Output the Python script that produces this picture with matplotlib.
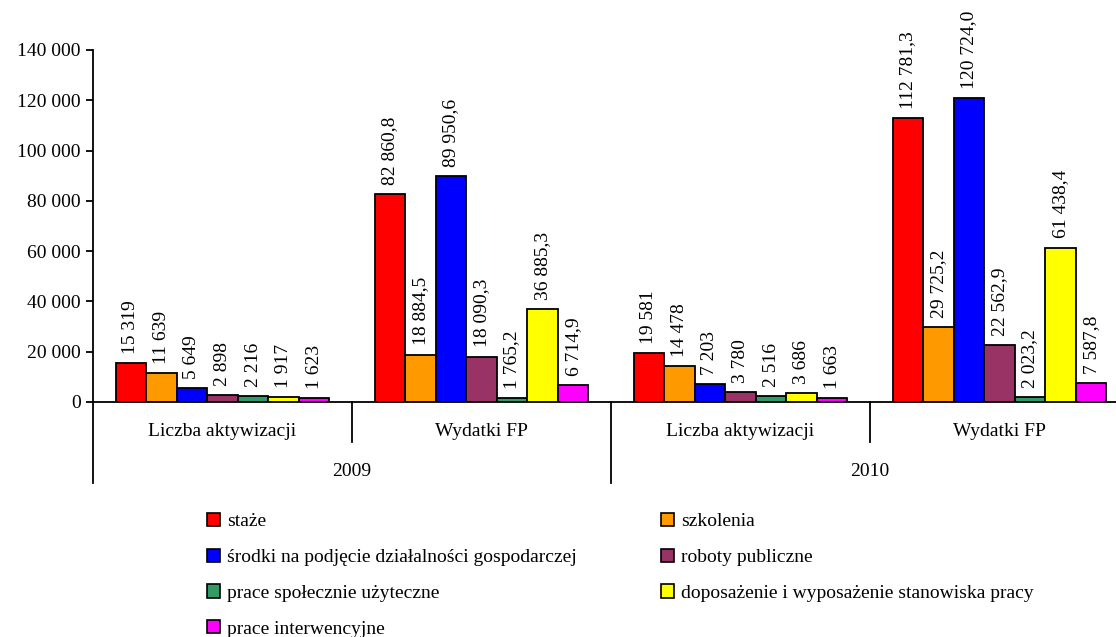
import matplotlib
matplotlib.use("Agg")
import matplotlib.pyplot as plt
from matplotlib.patches import Patch
from matplotlib.lines import Line2D

plt.rcParams['font.family'] = ['Liberation Serif', 'DejaVu Serif']

groups = ["Liczba aktywizacji", "Wydatki FP", "Liczba aktywizacji", "Wydatki FP"]
years = ["2009", "2010"]
series = ["staże", "szkolenia", "środki na podjęcie działalności gospodarczej",
          "roboty publiczne", "prace społecznie użyteczne",
          "doposażenie i wyposażenie stanowiska pracy", "prace interwencyjne"]
colors = ["#FF0000", "#FF9900", "#0000FF", "#993366", "#339966", "#FFFF00", "#FF00FF"]

liczba_2009 = [15319, 11639, 5649, 2898, 2216, 1917, 1623]
wydatki_2009 = [82860.8, 18884.5, 89950.6, 18090.3, 1765.2, 36885.3, 6714.9]
liczba_2010 = [19581, 14478, 7203, 3780, 2516, 3686, 1663]
wydatki_2010 = [112781.3, 29725.2, 120724.0, 22562.9, 2023.2, 61438.4, 7587.8]
group_values = [liczba_2009, wydatki_2009, liczba_2010, wydatki_2010]
group_decimals = [0, 1, 0, 1]
yticks = [0, 20000, 40000, 60000, 80000, 100000, 120000, 140000]


def fmt(v, dec):
    if dec == 0:
        s = f"{v:,.0f}".replace(",", " ")
    else:
        s = f"{v:,.1f}".replace(",", " ").replace(".", ",")
    return s


W, H = 1116, 637
fig = plt.figure(figsize=(W / 100, H / 100), dpi=100)
left, right, bottom, top = 93, 1129, 402, 50
ax = fig.add_axes([left / W, 1 - bottom / H, (right - left) / W, (bottom - top) / H])

fs = 14
bw = 0.118
n = len(series)
for gi, vals in enumerate(group_values):
    for si in range(n):
        x = gi + (si - (n - 1) / 2) * bw
        ax.bar(x, vals[si], width=bw, color=colors[si], edgecolor="black", linewidth=1.3, zorder=3)
        ax.annotate(fmt(vals[si], group_decimals[gi]), (x, vals[si]), xytext=(0, 6.5),
                    textcoords="offset points", rotation=90, ha="center", va="bottom",
                    fontsize=fs)

ax.set_xlim(-0.5, 3.5)
ax.set_ylim(0, 140000)
ax.set_yticks(yticks)
ax.set_yticklabels([fmt(v, 0) for v in yticks], fontsize=fs)
ax.set_xticks([])
for s in ["top", "right"]:
    ax.spines[s].set_visible(False)
ax.spines["left"].set_linewidth(1.3)
ax.spines["bottom"].set_linewidth(1.3)
ax.tick_params(axis="y", length=5, width=1.3, pad=4)

ah = bottom - top
tr = ax.get_xaxis_transform()
# separators
for xs, depth in [(-0.5, 81), (0.5, 40), (1.5, 81), (2.5, 40)]:
    ax.add_line(Line2D([xs, xs], [0, -depth / ah], transform=tr, color="black",
                       linewidth=1.3, clip_on=False))
for gi, g in enumerate(groups):
    ax.text(gi, -29 / ah, g, transform=tr, ha="center", va="center", fontsize=fs)
for yi, y in enumerate(years):
    ax.text(0.5 + 2 * yi, -70 / ah, y, transform=tr, ha="center", va="center", fontsize=fs)

prop = {"family": "Liberation Serif", "size": fs}
cols = [[0, 2, 4, 6], [1, 3, 5]]
col_x = [207, 661]
for ci, idx in enumerate(cols):
    handles = [Patch(facecolor=colors[i], edgecolor="black", linewidth=1.2) for i in idx]
    labels = [series[i] for i in idx]
    fig.legend(handles, labels, loc="upper left", bbox_to_anchor=(col_x[ci] / W, 1 - 513 / H),
               ncol=1, frameon=False, prop=prop, handlelength=0.67, handleheight=0.67,
               handletextpad=0.35, labelspacing=0.94, borderpad=0, borderaxespad=0)

fig.savefig("out.png", dpi=100)
